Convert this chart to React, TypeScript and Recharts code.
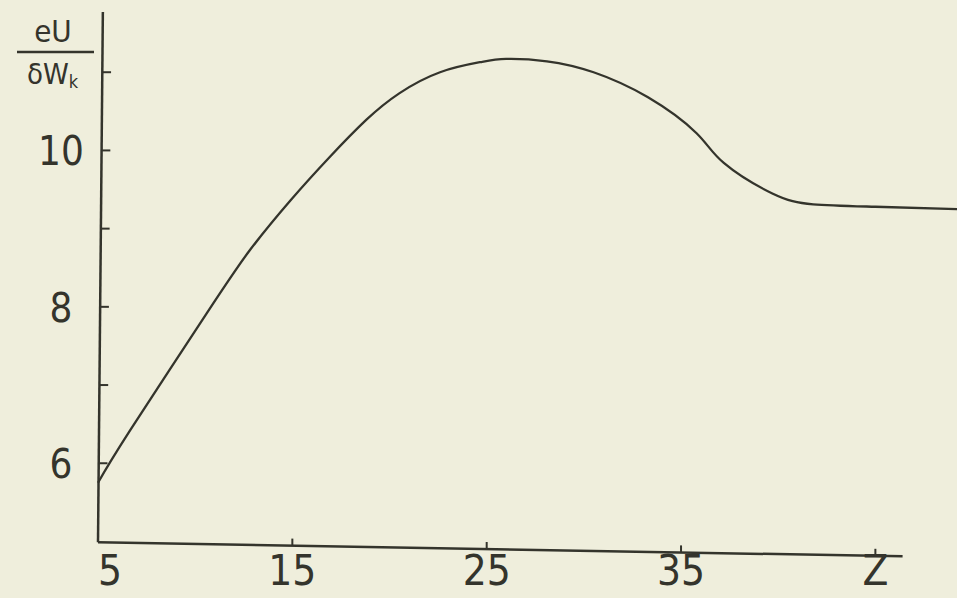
import React from 'react';
import { LineChart, Line, XAxis, YAxis, ReferenceLine } from 'recharts';

// Z values and eU/δWk
const zValues = [5, 6.65, 10.6, 12.8, 14.9, 16.9, 18.8, 20.5, 22.6, 24.7, 26.0, 28.1, 30.5, 33.3, 35.8, 37.2, 39.7, 41.8, 45, 49.2];
const ratioValues = [5.75, 6.42, 7.92, 8.72, 9.36, 9.91, 10.39, 10.73, 11.0, 11.13, 11.17, 11.14, 11.0, 10.68, 10.22, 9.84, 9.45, 9.31, 9.28, 9.25];

const xTicks = [5, 15, 25, 35, 45];
const xTickLabels = ['5', '15', '25', '35', 'Z'];
const yTicks = [6, 7, 8, 9, 10, 11];
const yLabelled = [6, 8, 10];

// hand-drawn axes are slightly tilted: end points in data units
const xAxisStart = { x: 5, y: 4.99 };
const xAxisEnd = { x: 46.4, y: 4.81 };
const yAxisTop = { x: 5.25, y: 11.77 };

const data = zValues.map((z, i) => ({ z, ratio: ratioValues[i] }));

const ink = '#34342c';
const paper = '#efeedc';
const font = "'Liberation Sans Narrow', 'DejaVu Sans Condensed', 'Roboto', sans-serif";

const axisYAt = (x: number) =>
  xAxisStart.y + ((x - xAxisStart.x) / (xAxisEnd.x - xAxisStart.x)) * (xAxisEnd.y - xAxisStart.y);
const axisXAt = (y: number) =>
  xAxisStart.x + ((y - xAxisStart.y) / (yAxisTop.y - xAxisStart.y)) * (yAxisTop.x - xAxisStart.x);

const XTick = (props: any) => {
  const { x, payload, index } = props;
  const shift = index === 0 ? 12 : 0;
  return (
    <text x={x + shift} y={585} textAnchor="middle" fill={ink} fontSize={42} fontFamily={font}>
      {xTickLabels[xTicks.indexOf(payload.value)]}
    </text>
  );
};

const YTick = (props: any) => {
  const { y, payload } = props;
  if (!yLabelled.includes(payload.value)) return <g />;
  return (
    <text x={61} y={y + 15} textAnchor="middle" fill={ink} fontSize={40} fontFamily={font}>
      {payload.value}
    </text>
  );
};

const YTitle = () => (
  <g fill={ink} fontFamily={font}>
    <text x={53} y={42} textAnchor="middle" fontSize={31}>eU</text>
    <line x1={17} y1={52} x2={94} y2={52} stroke={ink} strokeWidth={2.5} />
    <text x={27} y={84} fontSize={29}>
      δW<tspan fontSize={18} dy={4}>k</tspan>
    </text>
  </g>
);

export default function App() {
  return (
    <div style={{ position: 'absolute', left: 0, top: 0, width: 957, height: 598, background: paper }}>
      <LineChart width={957} height={598} data={data} margin={{ top: 12, right: 0, bottom: 0, left: 0 }}>
        <XAxis
          dataKey="z"
          type="number"
          domain={[5, 49.2]}
          ticks={xTicks}
          height={37}
          axisLine={false}
          tickLine={false}
          tickSize={0}
          tickMargin={0}
          tick={<XTick />}
          interval={0}
        />
        <YAxis
          type="number"
          domain={[4.75, 11.77]}
          ticks={yTicks}
          width={98}
          axisLine={false}
          tickLine={false}
          tickSize={0}
          tickMargin={0}
          tick={<YTick />}
          interval={0}
          label={<YTitle />}
        />
        <ReferenceLine segment={[xAxisStart, xAxisEnd]} stroke={ink} strokeWidth={2.5} ifOverflow="visible" />
        <ReferenceLine
          segment={[{ x: axisXAt(xAxisStart.y), y: xAxisStart.y }, yAxisTop]}
          stroke={ink}
          strokeWidth={2.5}
          ifOverflow="visible"
        />
        {xTicks.slice(1).map((t) => (
          <ReferenceLine
            key={'xt' + t}
            segment={[{ x: t, y: axisYAt(t) }, { x: t, y: axisYAt(t) + 0.09 }]}
            stroke={ink}
            strokeWidth={2}
            ifOverflow="visible"
          />
        ))}
        {yTicks.map((t) => (
          <ReferenceLine
            key={'yt' + t}
            segment={[{ x: axisXAt(t), y: t }, { x: axisXAt(t) + 0.45, y: t }]}
            stroke={ink}
            strokeWidth={2}
            ifOverflow="visible"
          />
        ))}
        <Line
          type="natural"
          dataKey="ratio"
          stroke={ink}
          strokeWidth={2.3}
          dot={false}
          isAnimationActive={false}
        />
      </LineChart>
    </div>
  );
}
